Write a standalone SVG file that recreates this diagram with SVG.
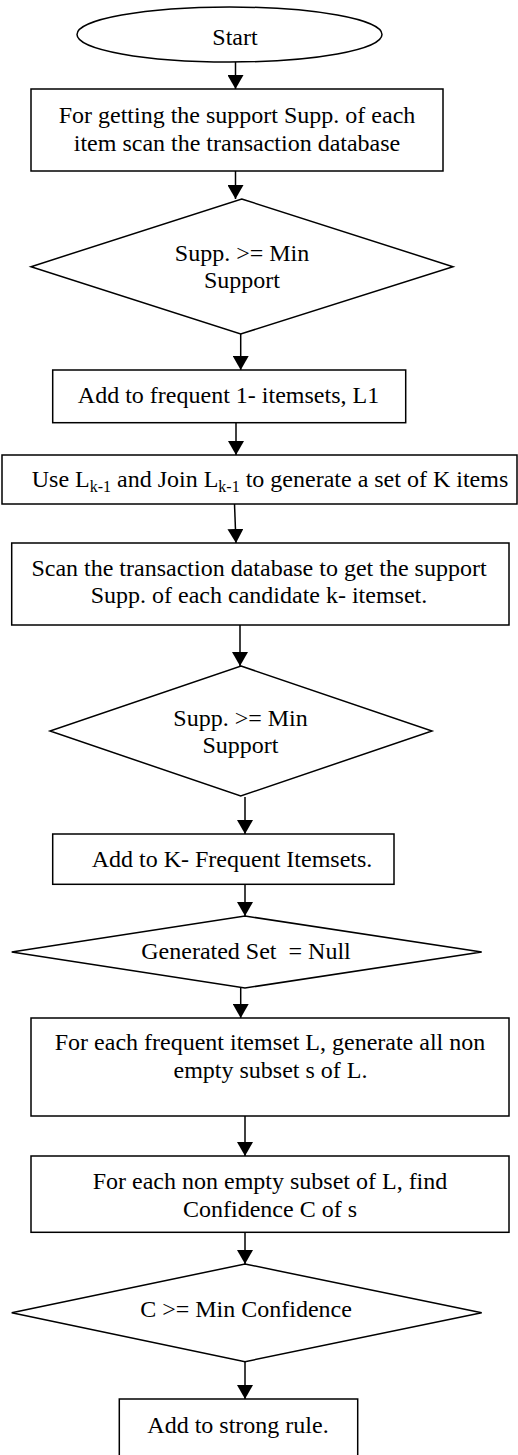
<svg xmlns="http://www.w3.org/2000/svg" width="518" height="1455" viewBox="0 0 518 1455">
<style>
.shape{fill:#fff;stroke:#000;stroke-width:1.5}
.conn{stroke:#000;stroke-width:1.5;fill:none}
.t text{font-family:'Liberation Serif','Times New Roman',Times,'DejaVu Serif',serif;font-size:24px;fill:#000;text-anchor:middle}
.sub{font-size:16px}
</style>
<defs>
<marker id="ah" markerUnits="userSpaceOnUse" markerWidth="14" markerHeight="16" viewBox="0 0 14 16" refX="14" refY="8" orient="auto">
<path d="M0,0 L14,8 L0,16 z" fill="#000"/>
</marker>
</defs>
<rect width="518" height="1455" fill="#fff"/>
<g id="connectors">
<line class="conn" x1="235.5" y1="62" x2="235.5" y2="89" marker-end="url(#ah)"/>
<line class="conn" x1="235.5" y1="171" x2="235.5" y2="199" marker-end="url(#ah)"/>
<line class="conn" x1="240.7" y1="334" x2="240.7" y2="370" marker-end="url(#ah)"/>
<line class="conn" x1="236" y1="423" x2="236" y2="455" marker-end="url(#ah)"/>
<line class="conn" x1="234.5" y1="504" x2="236" y2="543" marker-end="url(#ah)"/>
<line class="conn" x1="240" y1="625" x2="240" y2="666" marker-end="url(#ah)"/>
<line class="conn" x1="245" y1="797" x2="245" y2="834" marker-end="url(#ah)"/>
<line class="conn" x1="245" y1="884" x2="245" y2="916" marker-end="url(#ah)"/>
<line class="conn" x1="240.7" y1="988" x2="240.7" y2="1018" marker-end="url(#ah)"/>
<line class="conn" x1="245" y1="1116" x2="245" y2="1156" marker-end="url(#ah)"/>
<line class="conn" x1="245" y1="1232" x2="245" y2="1264" marker-end="url(#ah)"/>
<line class="conn" x1="245" y1="1362" x2="245" y2="1399" marker-end="url(#ah)"/>
</g>
<g class="t" font-family="Liberation Serif, Times New Roman, serif" font-size="24" text-anchor="middle">
<g id="start">
<ellipse class="shape" cx="229.5" cy="34.5" rx="152.5" ry="27.5"/>
<text x="235" y="45">Start</text>
</g>
<g id="scan1">
<rect class="shape" x="31" y="89" width="412" height="82"/>
<text x="237" y="123">For getting the support Supp. of each</text>
<text x="237" y="150.5">item scan the transaction database</text>
</g>
<g id="dec1">
<polygon class="shape" points="241.7,199 453,266.7 240.7,334 31,266.7"/>
<text x="242" y="260.7">Supp. &gt;= Min</text>
<text x="242" y="288.3">Support</text>
</g>
<g id="addL1">
<rect class="shape" x="52.7" y="370" width="353" height="52.7"/>
<text x="228.5" y="402.7">Add to frequent 1- itemsets, L1</text>
</g>
<g id="join">
<rect class="shape" x="2" y="455" width="515" height="49"/>
<text x="270" y="487">Use L<tspan class="sub" dy="5">k-1</tspan><tspan dy="-5"> and Join L</tspan><tspan class="sub" dy="5">k-1</tspan><tspan dy="-5"> to generate a set of K items</tspan></text>
</g>
<g id="scan2">
<rect class="shape" x="11.7" y="543" width="497.3" height="82"/>
<text x="259" y="576">Scan the transaction database to get the support</text>
<text x="259" y="603.3">Supp. of each candidate k- itemset.</text>
</g>
<g id="dec2">
<polygon class="shape" points="241,666 432,731 240.7,796 50,731"/>
<text x="240.5" y="726">Supp. &gt;= Min</text>
<text x="240.5" y="752.7">Support</text>
</g>
<g id="addK">
<rect class="shape" x="52.7" y="834" width="341.3" height="50.3"/>
<text x="232" y="866.7">Add to K- Frequent Itemsets.</text>
</g>
<g id="dec3">
<polygon class="shape" points="245,916 481.7,952 245,988 11.7,952"/>
<text x="246" y="959">Generated Set&#160; = Null</text>
</g>
<g id="subsets">
<rect class="shape" x="31" y="1018" width="478" height="98"/>
<text x="270" y="1050">For each frequent itemset L, generate all non</text>
<text x="270.5" y="1077.7">empty subset s of L.</text>
</g>
<g id="confidence">
<rect class="shape" x="31" y="1156" width="478" height="76.3"/>
<text x="270" y="1189.3">For each non empty subset of L, find</text>
<text x="270" y="1216.7">Confidence C of s</text>
</g>
<g id="dec4">
<polygon class="shape" points="245,1264 481.7,1312.7 245,1361.7 11.7,1312.7"/>
<text x="246" y="1316.7">C &gt;= Min Confidence</text>
</g>
<g id="strong">
<rect class="shape" x="119.3" y="1399" width="238.4" height="70"/>
<text x="238" y="1433.3">Add to strong rule.</text>
</g>
</g>
</svg>
